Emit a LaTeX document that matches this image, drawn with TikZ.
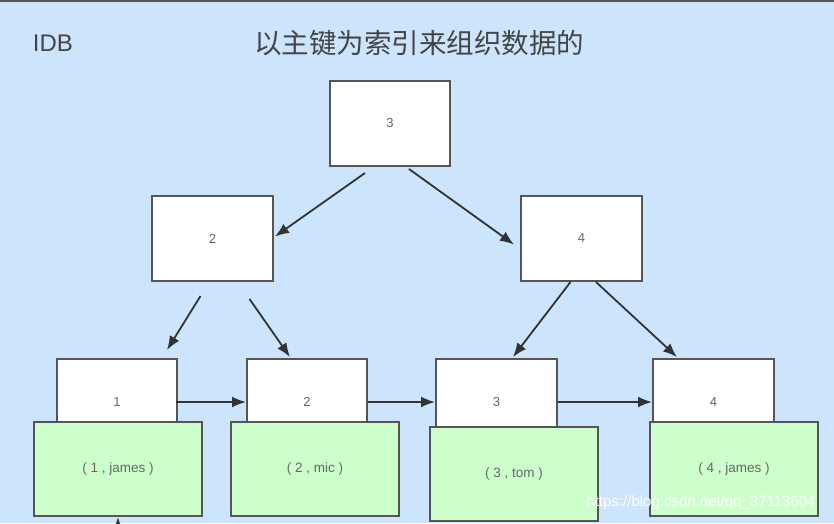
\documentclass[tikz,border=0pt]{standalone}
\usepackage{fontspec}
\setmainfont{Liberation Sans}
\newfontfamily\cjk{Noto Sans CJK SC}
\usetikzlibrary{arrows.meta,calc}
\definecolor{bg}{HTML}{CCE5FD}
\definecolor{boxline}{HTML}{555555}
\definecolor{leafgreen}{HTML}{CCFFCC}
\definecolor{txt}{HTML}{666666}
\definecolor{titletxt}{HTML}{444444}
\definecolor{arrowc}{HTML}{333333}
\begin{document}
\begin{tikzpicture}[x=1pt,y=-1pt,
  keybox/.style={draw=boxline,line width=2pt,fill=white,inner sep=0pt,text=txt,font=\fontsize{13}{13}\selectfont},
  databox/.style={draw=boxline,line width=2pt,fill=leafgreen,inner sep=0pt,text=txt,font=\fontsize{13.5}{13.5}\selectfont,minimum width=168pt,minimum height=94pt},
  arr/.style={draw=arrowc,line width=1.8pt,-{Latex[length=14pt,width=11pt]}},
  lbl/.style={text=titletxt,inner sep=0pt}]
\fill[bg] (0,0) rectangle (834,523);
\useasboundingbox (0,0) rectangle (834,523);
\fill[boxline] (0,0) rectangle (834,2);

\node[lbl,font=\fontsize{24}{24}\selectfont] (idb) at (53,43) {IDB};
\node[lbl,font=\cjk\fontsize{27.5}{27.5}\selectfont] (title) at (419,43) {以主键为索引来组织数据的};

% internal nodes
\node[keybox,minimum width=120pt,minimum height=85pt] (root) at (390,123.5) {3};
\node[keybox,minimum width=121pt,minimum height=85pt] (b2) at (212.5,238.5) {2};
\node[keybox,minimum width=121pt,minimum height=85pt] (b4) at (581.5,238.5) {4};

% leaf keys
\node[keybox,minimum width=120pt,minimum height=86pt] (k1) at (117,402) {1};
\node[keybox,minimum width=120pt,minimum height=86pt] (k2) at (307,402) {2};
\node[keybox,minimum width=121pt,minimum height=86pt] (k3) at (496.5,402) {3};
\node[keybox,minimum width=121pt,minimum height=86pt] (k4) at (713.5,402) {4};

% leaf data
\node[databox] (g1) at (118,469) {( 1 , james )};
\node[databox] (g2) at (315,469) {( 2 , mic )};
\node[databox] (g3) at (514,474) {( 3 , tom )};
\node[databox] (g4) at (734,469) {( 4 , james )};

% tree arrows
\draw[arr] ($(root.south)+(-25,6)$) -- ($(b2.east)+(1,-2)$);
\draw[arr] ($(root.south)+(19,2)$) -- ($(b4.west)+(-6,6)$);
\draw[arr] ($(b2.south)+(-12,14)$) -- ($(k1.north)+(50,-8)$);
\draw[arr] ($(b2.south)+(37,17)$) -- ($(k2.north)+(-17,-1)$);
\draw[arr] ($(b4.south)+(-11,0)$) -- ($(k3.north)+(16.5,-1)$);
\draw[arr] ($(b4.south)+(14.5,0)$) -- ($(k4.north)+(-36.5,-1)$);

% leaf links
\draw[arr] ($(k1.east)+(-2,0)$) -- (k2.west);
\draw[arr] (k2.east) -- (k3.west);
\draw[arr] (k3.east) -- (k4.west);

\coordinate (stub) at (118,523);
\draw[arr] (stub) -- (g1.south);

\node[text=white,inner sep=0pt,font=\fontsize{15}{15}\selectfont] (wm) at (701,503) {https://blog.csdn.net/qq\_37113604};
\end{tikzpicture}
\end{document}
